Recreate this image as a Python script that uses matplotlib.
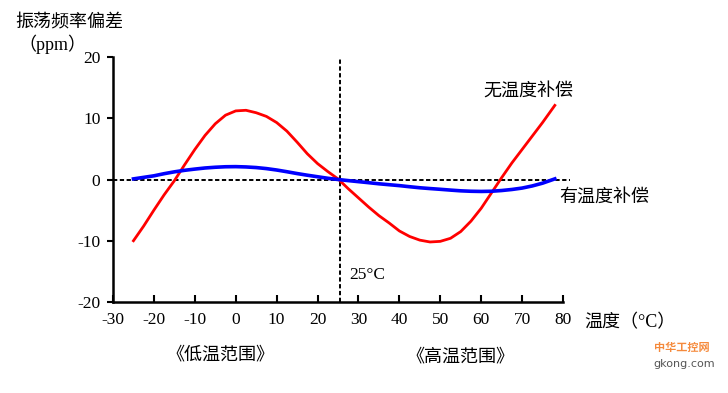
import numpy as np
import matplotlib
matplotlib.use("Agg")
from matplotlib import pyplot as plt

plt.rcParams['font.family'] = ['Liberation Serif', 'Noto Sans CJK SC', 'DejaVu Sans']
plt.rcParams['axes.unicode_minus'] = False

# temperature (C) and frequency deviation (ppm)
temp_red = [-25, -22.5, -20, -17.5, -15, -12.5, -10, -7.5, -5, -2.5, 0, 2.5, 5, 7.5,
            10, 12.5, 15, 17.5, 20, 22.5, 25, 27.5, 30, 32.5, 35, 37.5, 40, 42.5,
            45, 47.5, 50, 52.5, 55, 57.5, 60, 62.5, 65, 67.5, 70, 72.5, 75, 78]
ppm_red = [-10.0, -7.6, -5.0, -2.5, -0.2, 2.4, 4.9, 7.2, 9.1, 10.5, 11.2, 11.3, 10.9, 10.3,
           9.3, 7.9, 6.1, 4.2, 2.6, 1.3, 0.1, -1.5, -3.0, -4.5, -5.9, -7.1, -8.4, -9.3,
           -9.9, -10.2, -10.1, -9.6, -8.5, -6.8, -4.7, -2.2, 0.3, 2.7, 4.9, 7.1, 9.3, 12.1]

temp_blue = [-25, -22.5, -20, -17.5, -15, -12.5, -10, -7.5, -5, -2.5, 0, 2.5, 5, 7.5,
             10, 12.5, 15, 17.5, 20, 22.5, 25, 27.5, 30, 32.5, 35, 37.5, 40, 42.5,
             45, 47.5, 50, 52.5, 55, 57.5, 60, 62.5, 65, 67.5, 70, 72.5, 75, 78]
ppm_blue = [0.1, 0.35, 0.6, 0.95, 1.25, 1.5, 1.7, 1.88, 2.0, 2.08, 2.1, 2.05, 1.95, 1.78,
            1.55, 1.27, 0.97, 0.7, 0.45, 0.2, 0.0, -0.18, -0.35, -0.52, -0.7, -0.85, -1.0, -1.18,
            -1.35, -1.48, -1.6, -1.73, -1.85, -1.92, -1.95, -1.92, -1.8, -1.63, -1.4, -1.05, -0.6, 0.1]

x_ticks = [-30, -20, -10, 0, 10, 20, 30, 40, 50, 60, 70, 80]
y_ticks = [-20, -10, 0, 10, 20]
ref_temp = 25.5

W, H = 728, 393
fig = plt.figure(figsize=(W/100, H/100), dpi=100)
ax = fig.add_axes([113/W, 1-302/H, 450/W, 245/H])

ax.plot(temp_red, ppm_red, color='#ff0000', lw=2.0, solid_joinstyle='round', zorder=3)
ax.plot(temp_blue, ppm_blue, color='#0000ff', lw=2.6, solid_joinstyle='round', zorder=4)

ax.axhline(0, xmin=0, xmax=1.016, color='black', lw=1.4, dashes=(2.2, 1.3), clip_on=False, zorder=2)
ax.axvline(ref_temp, ymin=0, ymax=0.99, color='black', lw=1.4, dashes=(2.2, 1.3), zorder=2)

ax.set_xlim(-30, 80)
ax.set_ylim(-20, 20)
ax.set_xticks(x_ticks)
ax.set_yticks(y_ticks)
ax.spines['top'].set_visible(False)
ax.spines['right'].set_visible(False)
ax.spines['left'].set_linewidth(1.8)
ax.spines['bottom'].set_linewidth(1.8)
ax.tick_params(axis='y', direction='out', length=4, width=1.5, labelsize=12.5, pad=5)
ax.tick_params(axis='x', direction='in', length=5, width=1.5, labelsize=12.5, pad=7)

# labels
fs = 13
fig.text(15/W, 1-22/H, '振荡频率偏差', fontsize=fs, ha='left', va='center')
fig.text(18/W, 1-44/H, '（ppm）', fontsize=fs, ha='left', va='center')
fig.text(483/W, 1-92/H, '无温度补偿', fontsize=fs, ha='left', va='center')
fig.text(559/W, 1-197/H, '有温度补偿', fontsize=fs, ha='left', va='center')
fig.text(349/W, 1-275/H, '25°C', fontsize=12.5, ha='left', va='center')
fig.text(584/W, 1-323/H, '温度（°C）', fontsize=fs, ha='left', va='center')
fig.text(220/W, 1-355/H, '《低温范围》', fontsize=fs, ha='center', va='center')
fig.text(460/W, 1-357/H, '《高温范围》', fontsize=fs, ha='center', va='center')

# watermark
fig.text(682/W, 1-348/H, '中华工控网', fontsize=8, color='#f58a3c', ha='center', va='center', fontweight='bold')
fig.text(684/W, 1-364/H, 'gkong.com', fontsize=8, color='#555555', ha='center', va='center', family='DejaVu Sans')

fig.savefig('out.png', dpi=100)
